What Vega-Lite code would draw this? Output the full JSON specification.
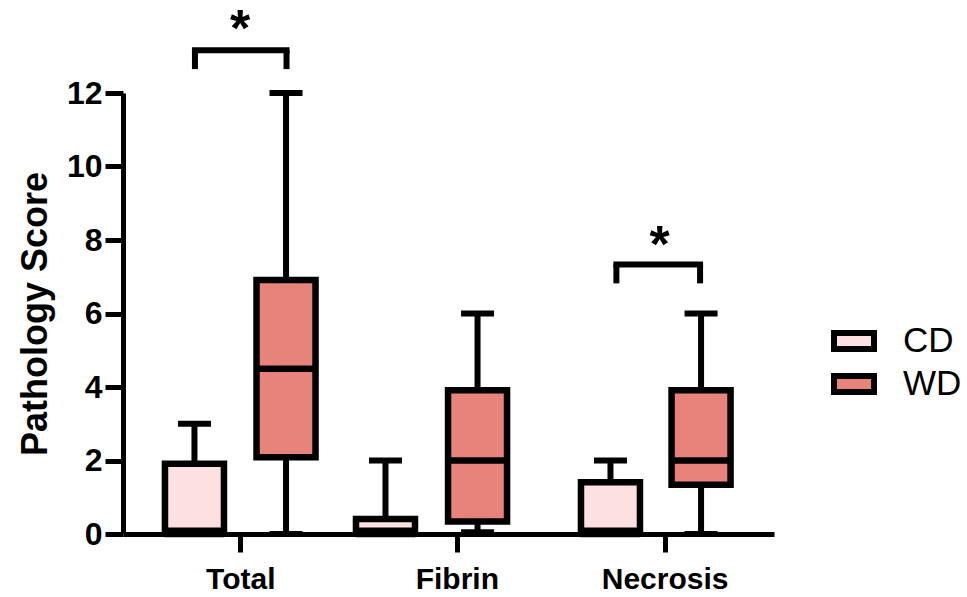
{
  "$schema": "https://vega.github.io/schema/vega-lite/v6.json",
  "autosize": {"type": "none"},
  "width": 651,
  "height": 441,
  "padding": {"left": 123, "top": 93, "right": 193, "bottom": 63},
  "background": "white",
  "config": {
    "view": {"stroke": null},
    "font": "Liberation Sans",
    "axis": {
      "domainColor": "black", "domainWidth": 5, "tickColor": "black", "tickWidth": 5, "tickSize": 18,
      "labelColor": "black", "labelFont": "Liberation Sans", "labelFontWeight": "bold",
      "titleColor": "black", "titleFont": "Liberation Sans", "titleFontWeight": "bold", "grid": false
    }
  },
  "datasets": {
    "boxes": [
      {"cat": "Total", "group": "CD", "pos": 0.675, "min": 0, "q1": 0, "median": 0, "q3": 2, "max": 3},
      {"cat": "Total", "group": "WD", "pos": 1.605, "min": 0, "q1": 2, "median": 4.5, "q3": 7, "max": 12},
      {"cat": "Fibrin", "group": "CD", "pos": 2.615, "min": 0, "q1": 0, "median": 0, "q3": 0.5, "max": 2},
      {"cat": "Fibrin", "group": "WD", "pos": 3.55, "min": 0.05, "q1": 0.25, "median": 2, "q3": 4, "max": 6},
      {"cat": "Necrosis", "group": "CD", "pos": 4.9, "min": 0, "q1": 0, "median": 0, "q3": 1.5, "max": 2},
      {"cat": "Necrosis", "group": "WD", "pos": 5.82, "min": 0, "q1": 1.25, "median": 2, "q3": 4, "max": 6}
    ],
    "sig": [
      {"x1": 0.68, "x2": 1.61, "top": 13.16, "bottom": 12.65, "xt": 1.14, "yt": 13.28, "label": "*"},
      {"x1": 4.96, "x2": 5.81, "top": 7.33, "bottom": 6.82, "xt": 5.4, "yt": 7.39, "label": "*"}
    ]
  },
  "layer": [
    {
      "data": {"name": "boxes"},
      "mark": {"type": "rule", "color": "black", "strokeWidth": 6},
      "encoding": {
        "x": {"field": "pos", "type": "quantitative",
          "scale": {"domain": [0, 6.51], "nice": false, "zero": false},
          "axis": {"values": [1.14, 3.34, 5.45], "title": null, "labelFontSize": 30, "labelPadding": 12,
            "labelExpr": "datum.value < 2 ? 'Total' : datum.value < 4 ? 'Fibrin' : 'Necrosis'"}},
        "y": {"field": "min", "type": "quantitative",
          "scale": {"domain": [0, 12], "nice": false},
          "axis": {"values": [0, 2, 4, 6, 8, 10, 12], "title": "Pathology Score", "labelFontSize": 32,
            "labelPadding": 3, "titleFontSize": 36, "titlePadding": 12}},
        "y2": {"field": "max"}
      }
    },
    {
      "data": {"name": "boxes"},
      "mark": {"type": "bar", "width": 59, "stroke": "black", "strokeWidth": 6.5, "yOffset": -3.25, "y2Offset": 3.25},
      "encoding": {
        "x": {"field": "pos", "type": "quantitative"},
        "y": {"field": "q1", "type": "quantitative"},
        "y2": {"field": "q3"},
        "fill": {"field": "group", "type": "nominal",
          "scale": {"domain": ["CD", "WD"], "range": ["#FDE0E1", "#E8837B"]},
          "legend": {"title": null, "orient": "none", "legendX": 708, "legendY": 225,
            "symbolType": "M-1,-0.4H1V0.4H-1Z", "symbolSize": 1600, "symbolStrokeColor": "black",
            "symbolStrokeWidth": 6, "symbolOpacity": 1, "labelFont": "Liberation Sans", "labelFontSize": 35,
            "labelColor": "black", "labelOffset": 26, "rowPadding": -4, "padding": 0}}
      }
    },
    {
      "data": {"name": "boxes"},
      "mark": {"type": "tick", "orient": "horizontal", "color": "black", "size": 60, "thickness": 6.5, "opacity": 1},
      "encoding": {
        "x": {"field": "pos", "type": "quantitative"},
        "y": {"field": "median", "type": "quantitative"}
      }
    },
    {
      "data": {"name": "boxes"},
      "mark": {"type": "tick", "orient": "horizontal", "color": "black", "size": 33, "thickness": 6, "opacity": 1},
      "encoding": {
        "x": {"field": "pos", "type": "quantitative"},
        "y": {"field": "max", "type": "quantitative"}
      }
    },
    {
      "data": {"name": "boxes"},
      "mark": {"type": "tick", "orient": "horizontal", "color": "black", "size": 33, "thickness": 6, "opacity": 1},
      "encoding": {
        "x": {"field": "pos", "type": "quantitative"},
        "y": {"field": "min", "type": "quantitative"}
      }
    },
    {
      "data": {"name": "sig"},
      "mark": {"type": "rule", "color": "black", "strokeWidth": 6, "strokeCap": "square", "clip": false},
      "encoding": {
        "x": {"field": "x1", "type": "quantitative"},
        "x2": {"field": "x2"},
        "y": {"field": "top", "type": "quantitative"}
      }
    },
    {
      "data": {"name": "sig"},
      "mark": {"type": "rule", "color": "black", "strokeWidth": 6, "clip": false},
      "encoding": {
        "x": {"field": "x1", "type": "quantitative"},
        "y": {"field": "top", "type": "quantitative"},
        "y2": {"field": "bottom"}
      }
    },
    {
      "data": {"name": "sig"},
      "mark": {"type": "rule", "color": "black", "strokeWidth": 6, "clip": false},
      "encoding": {
        "x": {"field": "x2", "type": "quantitative"},
        "y": {"field": "top", "type": "quantitative"},
        "y2": {"field": "bottom"}
      }
    },
    {
      "data": {"name": "sig"},
      "mark": {"type": "text", "font": "Liberation Sans", "fontWeight": "bold", "fontSize": 52, "align": "center", "baseline": "alphabetic", "color": "black", "clip": false},
      "encoding": {
        "x": {"field": "xt", "type": "quantitative"},
        "y": {"field": "yt", "type": "quantitative"},
        "text": {"field": "label"}
      }
    }
  ]
}
